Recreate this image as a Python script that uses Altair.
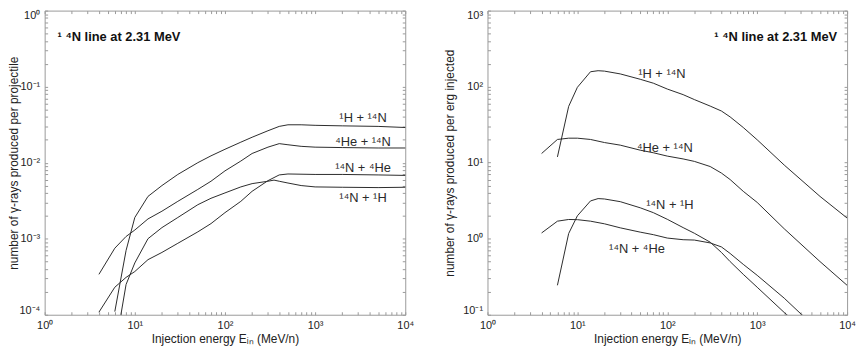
import altair as alt
import pandas as pd

# ---------------- data ----------------
SERIES_NAMES = ["¹H + ¹⁴N", "⁴He + ¹⁴N", "¹⁴N + ⁴He", "¹⁴N + ¹H"]

# Left panel: number of gamma-rays produced per projectile
L_HN_E = [6, 8, 10, 14, 20, 30, 50, 70, 100, 150, 200, 300, 400, 500, 700, 1000, 2000, 5000, 10000]
L_HN_V = [1.1e-4, 7.0e-4, 1.9e-3, 3.6e-3, 5.0e-3, 7.0e-3, 1.0e-2, 1.23e-2, 1.5e-2, 1.86e-2, 2.16e-2,
          2.63e-2, 3.0e-2, 3.15e-2, 3.15e-2, 3.1e-2, 3.05e-2, 3.0e-2, 2.9e-2]

L_HEN_E = [4, 6, 8, 10, 14, 20, 30, 50, 70, 100, 150, 200, 300, 400, 500, 700, 1000, 2000, 5000, 10000]
L_HEN_V = [3.4e-4, 7.5e-4, 1.07e-3, 1.3e-3, 1.82e-3, 2.3e-3, 3.1e-3, 4.45e-3, 5.7e-3, 7.8e-3, 1.05e-2,
           1.32e-2, 1.6e-2, 1.78e-2, 1.72e-2, 1.64e-2, 1.6e-2, 1.58e-2, 1.56e-2, 1.56e-2]

L_NHE_E = [4, 6, 8, 10, 14, 20, 30, 50, 70, 100, 150, 200, 300, 400, 500, 1000, 2000, 5000, 10000]
L_NHE_V = [1.08e-4, 2.3e-4, 3.1e-4, 3.7e-4, 5.3e-4, 6.6e-4, 8.7e-4, 1.23e-3, 1.58e-3, 2.2e-3, 3.1e-3,
           4.2e-3, 5.8e-3, 6.9e-3, 7.1e-3, 7.0e-3, 7.0e-3, 6.9e-3, 6.8e-3]

L_NH_E = [6, 8, 10, 14, 20, 30, 50, 70, 100, 150, 200, 300, 350, 400, 500, 700, 1000, 2000, 5000, 10000]
L_NH_V = [3.4e-5, 2.5e-4, 4.8e-4, 1.0e-3, 1.4e-3, 1.9e-3, 2.8e-3, 3.4e-3, 4.0e-3, 4.8e-3, 5.3e-3,
          5.7e-3, 5.9e-3, 5.7e-3, 5.4e-3, 5.0e-3, 4.8e-3, 4.75e-3, 4.7e-3, 4.75e-3]

# Right panel: number of gamma-rays produced per erg injected
R_HN_E = [6, 8, 10, 14, 17, 20, 30, 50, 70, 100, 150, 200, 300, 400, 500, 700, 1000, 2000, 5000, 10000]
R_HN_V = [11.9, 55, 98, 157, 162, 160, 147, 125, 111, 93, 78.5, 67.6, 55.5, 47.8, 40, 29, 20, 9.3, 3.6, 1.87]

R_HEN_E = [4, 6, 8, 10, 14, 20, 30, 50, 70, 100, 150, 200, 300, 400, 500, 700, 1000, 2000, 5000, 10000]
R_HEN_V = [13.2, 20.2, 21, 21, 20.2, 18.4, 17.0, 14.6, 13.5, 12.2, 11.2, 10.4, 8.9, 7.3, 6.0, 4.2, 3.0,
           1.35, 0.5, 0.244]

R_NHE_E = [4, 6, 8, 10, 14, 20, 30, 50, 70, 100, 150, 200, 300, 400, 500, 700, 1000, 2000, 3000, 10000]
R_NHE_V = [1.19, 1.70, 1.79, 1.78, 1.70, 1.57, 1.39, 1.22, 1.13, 1.02, 0.97, 0.96, 0.88, 0.78, 0.64,
           0.46, 0.33, 0.165, 0.105, 0.031]

R_NH_E = [6, 8, 10, 14, 17, 20, 30, 50, 70, 100, 150, 200, 300, 400, 500, 700, 1000, 2000, 10000]
R_NH_V = [0.244, 1.17, 2.0, 3.14, 3.37, 3.33, 3.07, 2.55, 2.2, 1.8, 1.4, 1.18, 0.9, 0.66, 0.5, 0.34,
          0.23, 0.107, 0.021]

# annotation positions (data coordinates)
L_LABEL_E = [3400, 3400, 3400, 3400]
L_LABEL_V = [0.0381, 0.0187, 0.0086, 0.00343]
R_LABEL_NAMES = ["¹H + ¹⁴N", "⁴He + ¹⁴N", "¹⁴N + ¹H", "¹⁴N + ⁴He"]
R_LABEL_E = [87, 94, 107, 46]
R_LABEL_V = [145, 15.6, 2.79, 0.733]

TITLE_TEXT = "¹ ⁴N line at 2.31 MeV"
L_TITLE_E, L_TITLE_V = 1.39, 0.455
R_TITLE_E, R_TITLE_V = 7760, 455

# axes
X_MAJOR = [1, 10, 100, 1000, 10000]
X_LABELS = ["10⁰", "10¹", "10²", "10³", "10⁴"]
YL_MAJOR = [1e-4, 1e-3, 1e-2, 1e-1, 1]
YL_LABELS = ["10⁻⁴", "10⁻³", "10⁻²", "10⁻¹", "10⁰"]
YR_MAJOR = [0.1, 1, 10, 100, 1000]
YR_LABELS = ["10⁻¹", "10⁰", "10¹", "10²", "10³"]
X_TITLE = "Injection energy Eᵢₙ (MeV/n)"
YL_TITLE = "number of γ-rays produced per projectile"
YR_TITLE = "number of γ-rays produced per erg injected"

# ---------------- layout / style ----------------
W, H = 810, 307
LX_RANGE = [0, 364]
RX_RANGE = [447, 810]
FRAME = "#9a9a9a"
INK = "#2a2a2a"
FONT = "Liberation Sans"


def long_df(parts):
    rows = []
    for name, es, vs in parts:
        for e, v in zip(es, vs):
            rows.append({"series": name, "E": e, "val": v})
    return pd.DataFrame(rows)


def label_expr(vals, labels):
    expr = "''"
    for v, lab in reversed(list(zip(vals, labels))):
        expr = f"abs(datum.value / {v!r} - 1) < 0.000001 ? '{lab}' : ({expr})"
    return expr


def log_ticks(lo, hi):
    out = []
    for d in range(lo, hi):
        for k in range(1, 10):
            out.append(k * 10.0 ** d)
    out.append(10.0 ** hi)
    return out


dfL = long_df([(SERIES_NAMES[0], L_HN_E, L_HN_V), (SERIES_NAMES[1], L_HEN_E, L_HEN_V),
               (SERIES_NAMES[2], L_NHE_E, L_NHE_V), (SERIES_NAMES[3], L_NH_E, L_NH_V)])
dfR = long_df([(SERIES_NAMES[0], R_HN_E, R_HN_V), (SERIES_NAMES[1], R_HEN_E, R_HEN_V),
               (SERIES_NAMES[2], R_NHE_E, R_NHE_V), (SERIES_NAMES[3], R_NH_E, R_NH_V)])

labL = pd.DataFrame({"txt": SERIES_NAMES, "E": L_LABEL_E, "val": L_LABEL_V})
labR = pd.DataFrame({"txt": R_LABEL_NAMES, "E": R_LABEL_E, "val": R_LABEL_V})
titL = pd.DataFrame({"txt": [TITLE_TEXT], "E": [L_TITLE_E], "val": [L_TITLE_V]})
titR = pd.DataFrame({"txt": [TITLE_TEXT], "E": [R_TITLE_E], "val": [R_TITLE_V]})


def xs(rng):
    return alt.Scale(type="log", domain=[1, 10000], range=rng, nice=False)


def ys(dom):
    return alt.Scale(type="log", domain=dom, nice=False)


def tick_axis(orient, offset, values):
    return alt.Axis(orient=orient, offset=offset, values=values, labels=False, title=None,
                    tickSize=3, tickColor=FRAME, domainColor=FRAME, grid=False,
                    tickWidth=1, domainWidth=1)


def panel(df, labdf, titdf, xrng, ydom, xticks, yticks, ymaj, ylabs, ytitle, left_px, title_x, title_align):
    right_px = xrng[1]
    x_lab_axis = alt.Axis(orient="bottom", values=X_MAJOR, labelExpr=label_expr(X_MAJOR, X_LABELS),
                          ticks=False, tickSize=0, domain=False, grid=False, labelPadding=5,
                          labelFlush=False, title=X_TITLE, titlePadding=3)
    y_lab_axis = alt.Axis(orient="left", offset=-left_px, values=ymaj, labelExpr=label_expr(ymaj, ylabs),
                          ticks=False, tickSize=0, domain=False, grid=False, labelPadding=5,
                          labelFlush=True, labelFlushOffset=1, title=ytitle, titleX=title_x,
                          titleY=H / 2, titleBaseline="middle", titleAngle=270)
    lines = alt.Chart(df).mark_line(clip=True, color=INK, strokeWidth=1).encode(
        x=alt.X("E:Q", scale=xs(xrng), axis=x_lab_axis),
        y=alt.Y("val:Q", scale=ys(ydom), axis=y_lab_axis),
        detail="series:N",
    )
    frameA = alt.Chart(df).mark_point(opacity=0).encode(
        x=alt.X("E:Q", scale=xs(xrng), axis=tick_axis("top", -H, xticks)),
        y=alt.Y("val:Q", scale=ys(ydom), axis=tick_axis("right", -(W - left_px), yticks)),
    )
    frameB = alt.Chart(df).mark_point(opacity=0).encode(
        x=alt.X("E:Q", scale=xs(xrng), axis=tick_axis("bottom", -H, xticks)),
        y=alt.Y("val:Q", scale=ys(ydom), axis=tick_axis("left", -right_px, yticks)),
    )
    labels = alt.Chart(labdf).mark_text(align="center", baseline="middle", fontSize=13,
                                        color=INK, font=FONT).encode(
        x=alt.X("E:Q", scale=xs(xrng), axis=None),
        y=alt.Y("val:Q", scale=ys(ydom), axis=None),
        text="txt:N",
    )
    title = alt.Chart(titdf).mark_text(align=title_align, baseline="middle", fontSize=13,
                                       fontWeight="bold", color="#111", font=FONT).encode(
        x=alt.X("E:Q", scale=xs(xrng), axis=None),
        y=alt.Y("val:Q", scale=ys(ydom), axis=None),
        text="txt:N",
    )
    return [lines, frameA, frameB, labels, title]


layers = (
    panel(dfL, labL, titL, LX_RANGE, [1e-4, 1], log_ticks(0, 4), log_ticks(-4, 0),
          YL_MAJOR, YL_LABELS, YL_TITLE, LX_RANGE[0], -31, "left")
    + panel(dfR, labR, titR, RX_RANGE, [0.1, 1000], log_ticks(0, 4), log_ticks(-1, 3),
            YR_MAJOR, YR_LABELS, YR_TITLE, RX_RANGE[0], -38, "right")
)

chart = (
    alt.layer(*layers)
    .resolve_scale(x="independent", y="independent")
    .resolve_axis(x="independent", y="independent")
    .properties(width=W, height=H, autosize=alt.AutoSizeParams(type="none"),
                padding={"left": 37, "top": 1, "right": 9, "bottom": 38},
                background="white")
    .configure_view(stroke=None)
    .configure_axis(labelFont=FONT, titleFont=FONT, labelFontSize=11, titleFontSize=12,
                    labelColor="#222", titleColor="#222", titleFontWeight="normal")
)

chart.save("out.html", embed_options={"renderer": "svg", "actions": False})
